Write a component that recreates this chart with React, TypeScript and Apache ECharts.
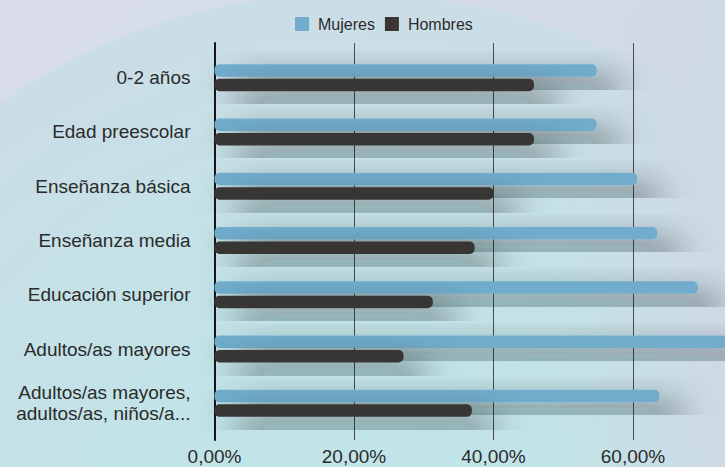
import React, { useEffect, useRef } from "react";
import * as echarts from "echarts";

const categories = [
  "0-2 años",
  "Edad preescolar",
  "Enseñanza básica",
  "Enseñanza media",
  "Educación superior",
  "Adultos/as mayores",
  "Adultos/as mayores,\nadultos/as, niños/a...",
];
const mujeres = [54.8, 54.8, 60.6, 63.5, 69.3, 73.5, 63.8];
const hombres = [45.8, 45.8, 40.0, 37.3, 31.3, 27.1, 36.9];
const seriesNames = ["Mujeres", "Hombres"];
const xTicks = { min: 0, max: 80, interval: 20 };

const FONT = "Liberation Sans";

export default function App() {
  const ref = useRef<HTMLDivElement>(null);
  useEffect(() => {
    if (!ref.current) return;
    const chart = echarts.init(ref.current, undefined, { renderer: "svg" });
    const fmt = (v: number) => v.toFixed(2).replace(".", ",") + "%";
    const shadow = {
      shadowColor: "rgba(10,20,25,0.9)",
      shadowBlur: 36,
      shadowOffsetX: 22,
      shadowOffsetY: 20,
    };
    chart.setOption({
      animation: false,
      backgroundColor: {
        type: "linear",
        x: 0,
        y: 0,
        x2: 1,
        y2: 1,
        colorStops: [
          { offset: 0, color: "#d8dde9" },
          { offset: 1, color: "#cdd8e5" },
        ],
      },
      graphic: [
        {
          type: "circle",
          z: -10,
          silent: true,
          shape: { cx: 350, cy: 605, r: 612 },
          style: {
            fill: {
              type: "radial",
              x: 0.5,
              y: 0.5,
              r: 0.5,
              colorStops: [
                { offset: 0, color: "#bfe6ea" },
                { offset: 0.6, color: "#c3e2e7" },
                { offset: 1, color: "#cbdde6" },
              ],
            },
          },
        },
        {
          type: "rect",
          z: -9,
          silent: true,
          shape: { x: 560, y: 0, width: 165, height: 467 },
          style: {
            fill: {
              type: "linear",
              x: 0,
              y: 0,
              x2: 1,
              y2: 0,
              colorStops: [
                { offset: 0, color: "rgba(206,217,230,0)" },
                { offset: 1, color: "rgba(206,217,230,0.9)" },
              ],
            },
          },
        },
      ],
      legend: {
        data: seriesNames,
        left: 290,
        top: 11,
        itemWidth: 14,
        itemHeight: 14,
        itemGap: 10,
        icon: "rect",
        textStyle: {
          fontFamily: FONT,
          fontSize: 16,
          color: "#2b2b2b",
          padding: [0, 0, 0, 4],
        },
      },
      grid: [
        { left: 214.5, width: 558, top: 50.5, height: 380, outerBoundsMode: "none", containLabel: false },
        { left: 214.5, width: 558, top: 43, height: 397, outerBoundsMode: "none", containLabel: false },
      ],
      xAxis: [
        {
          gridIndex: 0,
          type: "value",
          ...xTicks,
          show: false,
          splitLine: { show: false },
        },
        {
          gridIndex: 1,
          type: "value",
          ...xTicks,
          axisLine: { show: false },
          axisTick: { show: false },
          splitLine: { show: true, lineStyle: { color: "#4a4a4a", width: 1 } },
          axisLabel: {
            formatter: fmt,
            showMaxLabel: false,
            fontFamily: FONT,
            fontSize: 19,
            lineHeight: 19,
            color: "#2b2b2b",
            margin: 7,
          },
        },
      ],
      yAxis: [
        {
          gridIndex: 0,
          type: "category",
          data: categories,
          inverse: true,
          axisLine: { show: false },
          axisTick: { show: false },
          axisLabel: {
            fontFamily: FONT,
            fontSize: 19,
            lineHeight: 21,
            color: "#2b2b2b",
            margin: 24,
            align: "right",
          },
        },
        {
          gridIndex: 1,
          type: "category",
          data: [""],
          axisLine: { show: true, lineStyle: { color: "#151515", width: 2 } },
          axisTick: { show: false },
          axisLabel: { show: false },
        },
      ],
      series: [
        {
          name: seriesNames[0],
          type: "bar",
          xAxisIndex: 0,
          yAxisIndex: 0,
          data: mujeres,
          barWidth: 12.5,
          barGap: "16%",
          itemStyle: { color: "#71accc", borderRadius: 5, ...shadow },
          z: 3,
        },
        {
          name: seriesNames[1],
          type: "bar",
          xAxisIndex: 0,
          yAxisIndex: 0,
          data: hombres,
          barWidth: 12.5,
          itemStyle: { color: "#393535", borderRadius: 5, ...shadow },
          z: 3,
        },
      ],
    });
    return () => chart.dispose();
  }, []);
  return (
    <div
      ref={ref}
      style={{ position: "fixed", left: 0, top: 0, width: 725, height: 467 }}
    />
  );
}
